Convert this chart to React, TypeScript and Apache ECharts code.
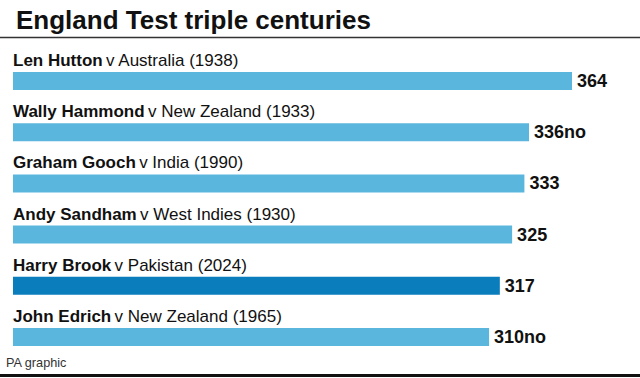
import React, { useEffect, useRef } from "react";
import * as echarts from "echarts";

const batters = ["Len Hutton", "Wally Hammond", "Graham Gooch", "Andy Sandham", "Harry Brook", "John Edrich"];
const opponents = ["v Australia (1938)", "v New Zealand (1933)", "v India (1990)", "v West Indies (1930)", "v Pakistan (2024)", "v New Zealand (1965)"];
const scores = [364, 336, 333, 325, 317, 310];
const notOut = [false, true, false, false, false, true];
const highlighted = "Harry Brook";

const FONT = "'Liberation Sans', Arial, Helvetica, sans-serif";

export default function App() {
  const ref = useRef<HTMLDivElement>(null);
  useEffect(() => {
    if (!ref.current) return;
    const chart = echarts.init(ref.current, null, { renderer: "svg" });
    chart.setOption({
      animation: false,
      backgroundColor: "#ffffff",
      textStyle: { fontFamily: FONT },
      title: {
        text: "England Test triple centuries",
        left: 11,
        top: 2,
        textStyle: { fontFamily: FONT, fontSize: 26, fontWeight: "bold", color: "#111111" },
      },
      graphic: [
        { type: "line", shape: { x1: 0, y1: 37.5, x2: 640, y2: 37.5 }, style: { stroke: "#333333", lineWidth: 1.5 } },
        { type: "rect", shape: { x: 0, y: 374, width: 640, height: 3 }, style: { fill: "#111111" } },
        {
          type: "text",
          left: 6,
          top: 356,
          style: { text: "PA graphic", font: `12.7px ${FONT}`, fill: "#333333" },
        },
      ],
      grid: { left: 13, right: 12.7, top: 55.4, bottom: 15.4, containLabel: false },
      xAxis: {
        type: "value",
        min: 0,
        max: 400,
        show: false,
      },
      yAxis: {
        type: "category",
        inverse: true,
        data: batters,
        axisLine: { show: false },
        axisTick: { show: false },
        splitLine: { show: false },
        axisLabel: {
          inside: true,
          margin: 0,
          align: "left",
          verticalAlign: "bottom",
          padding: [0, 0, 12, 0],
          formatter: (v: string, i: number) => `{b|${v}} {r|${opponents[i]}}`,
          rich: {
            b: { fontFamily: FONT, fontSize: 17, fontWeight: "bold", color: "#111111" },
            r: { fontFamily: FONT, fontSize: 17, color: "#111111" },
          },
        },
      },
      series: [
        {
          type: "bar",
          barWidth: 18,
          data: scores.map((s, i) => ({
            value: s,
            itemStyle: { color: batters[i] === highlighted ? "#0a7dbd" : "#5bb6de" },
          })),
          label: {
            show: true,
            position: "right",
            distance: 5,
            formatter: (p: any) => `${p.value}${notOut[p.dataIndex] ? "no" : ""}`,
            fontFamily: FONT,
            fontSize: 18,
            fontWeight: "bold",
            color: "#111111",
          },
        },
      ],
    });
    return () => chart.dispose();
  }, []);
  return <div ref={ref} style={{ position: "fixed", left: 0, top: 0, width: 640, height: 378 }} />;
}
